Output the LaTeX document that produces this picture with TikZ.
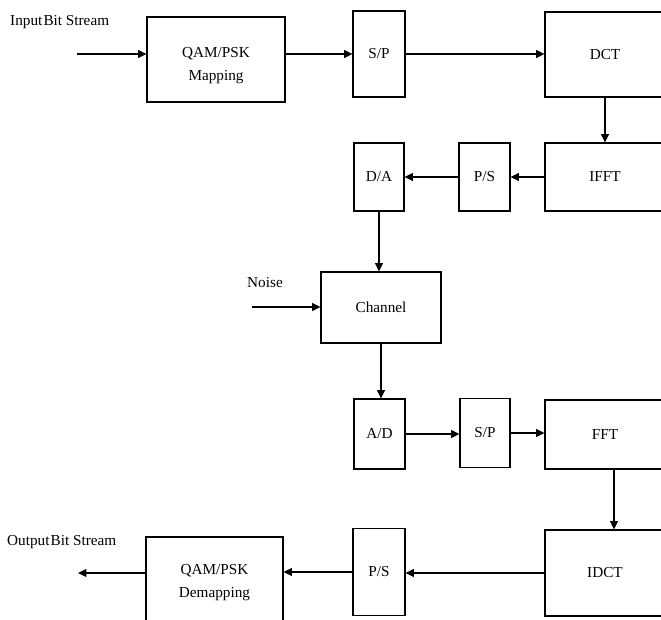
\documentclass[tikz,border=0pt]{standalone}
\usepackage{fontspec}
\setmainfont{Liberation Serif}
\usetikzlibrary{positioning,arrows.meta}

\begin{document}
\begin{tikzpicture}[
  x=0.3mm, y=-0.3mm,
  font=\fontsize{13}{19}\selectfont,
  blk/.style 2 args={draw,line width=0.9pt,inner sep=0pt,align=center,
                     minimum width=#1,minimum height=#2},
  inner/.style={align=center,inner sep=0pt},
  ar/.style={-{Triangle[length=2.5mm,width=2.3mm]},line width=1.6pt},
  lbl/.style={anchor=west,inner sep=0pt}
]
\useasboundingbox (0,0) rectangle (661,620);
\clip (0,0) rectangle (661,620);

% --- transmitter ---
\node[blk={41.4mm}{25.5mm},
      label={[inner,yshift=-1.8mm]center:{QAM/PSK\\Mapping}}] (map) at (216,59.5) {};
\node[blk={15.6mm}{25.8mm}] (sp1) at (379,54) {S/P};
\node[blk={36mm}{25.5mm}] (dct) at (605,54.5) {DCT};
\node[blk={36mm}{20.4mm}] (ifft) at (605,177) {IFFT};
\node[blk={15.3mm}{20.4mm}] (ps1) at (484.5,177) {P/S};
\node[blk={15mm}{20.4mm}] (da) at (379,177) {D/A};

% --- channel ---
\node[blk={36mm}{21.3mm}] (chan) at (381,307.5) {Channel};

% --- receiver ---
\node[blk={15.3mm}{21mm}] (ad) at (379.5,434) {A/D};
\node[blk={15mm}{20.7mm}] (sp2) at (485,433) {S/P};
\node[blk={36mm}{20.7mm}] (fft) at (605,434.5) {FFT};
\node[blk={36mm}{25.8mm}] (idct) at (605,573) {IDCT};
\node[blk={15.6mm}{26.1mm}] (ps2) at (379,572) {P/S};
\node[blk={41.1mm}{25.5mm},
      label={[inner,yshift=-0.9mm]center:{QAM/PSK\\Demapping}}] (demap) at (214.5,579.5) {};

% labels and free ends
\node[lbl] (inlbl) at (10,22) {Input\kern1pt Bit Stream};
\node[lbl] (outlbl) at (7,542) {Output\kern1pt Bit Stream};
\node[lbl] (nslbl) at (247,283) {Noise};
\coordinate (inS) at (77,54);
\coordinate (noiseS) at (252,307);
\coordinate (outE) at (78,573);

\draw[ar] (inS) -- (map.west |- inS);
\draw[ar] (map.east |- sp1.west) -- (sp1.west);
\draw[ar] (sp1.east) -- (dct.west |- sp1.east);
\draw[ar] (dct.south) -- (ifft.north);
\draw[ar] (ifft.west) -- (ps1.east);
\draw[ar] (ps1.west) -- (da.east);
\draw[ar] (da.south) -- (da.south |- chan.north);
\draw[ar] (noiseS) -- (chan.west |- noiseS);
\draw[ar] (chan.south) -- (chan.south |- ad.north);
\draw[ar] (ad.east) -- (sp2.west |- ad.east);
\draw[ar] (sp2.east) -- (fft.west |- sp2.east);
\draw[ar] ([xshift=2.7mm]fft.south) -- ([xshift=2.7mm]idct.north);
\draw[ar] (idct.west) -- (ps2.east |- idct.west);
\draw[ar] (ps2.west) -- (demap.east |- ps2.west);
\draw[ar] (demap.west |- outE) -- (outE);
\end{tikzpicture}
\end{document}
